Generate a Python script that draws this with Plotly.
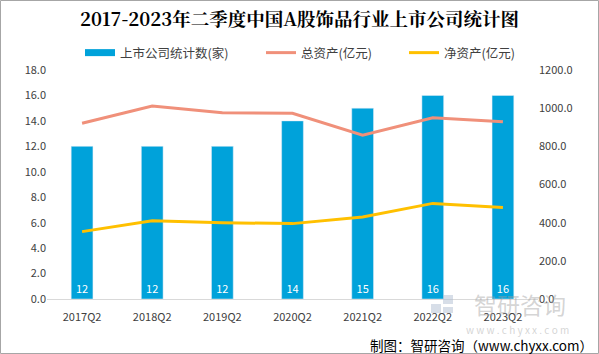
import plotly.graph_objects as go

categories = ["2017Q2", "2018Q2", "2019Q2", "2020Q2", "2021Q2", "2022Q2", "2023Q2"]
company_count = [12, 12, 12, 14, 15, 16, 16]
total_assets = [921, 1011, 976, 973, 858, 950, 929]
net_assets = [353, 410, 400, 395, 430, 501, 480]

W, H = 599, 354
ml, mr, mt, mb = 47, 61, 70, 55
pw, ph = W - ml - mr, H - mt - mb

BLUE, SALMON, GOLD = "#00A2DA", "#F0907A", "#FFC000"

fig = go.Figure()
fig.add_trace(go.Bar(
    x=categories, y=company_count, name="上市公司统计数(家)", showlegend=False,
    marker_color=BLUE, width=0.31,
    text=[str(v) for v in company_count], textposition="inside",
    insidetextanchor="start", textfont=dict(color="white", size=11),
))
# legend proxy for the bar (wide rectangle symbol)
fig.add_trace(go.Scatter(
    x=[None], y=[None], name="上市公司统计数(家)", mode="lines",
    line=dict(color=BLUE, width=7), legend="legend",
))
fig.add_trace(go.Scatter(
    x=categories, y=total_assets, name="总资产(亿元)", yaxis="y2",
    mode="lines", line=dict(color=SALMON, width=3), legend="legend2",
))
fig.add_trace(go.Scatter(
    x=categories, y=net_assets, name="净资产(亿元)", yaxis="y2",
    mode="lines", line=dict(color=GOLD, width=3), legend="legend3",
))

font_family = "Microsoft YaHei, Noto Sans CJK SC, sans-serif"
leg_common = dict(orientation="h", yanchor="middle", y=1 + 17 / ph, xanchor="left",
                  font=dict(size=12.5, color="#404040"), itemwidth=30,
                  bgcolor="rgba(0,0,0,0)", borderwidth=0)


def px_x(px):
    return (px - ml) / pw


def px_y(py):
    return (299 - py) / ph


fig.update_layout(
    width=W, height=H,
    margin=dict(l=ml, r=mr, t=mt, b=mb),
    paper_bgcolor="white", plot_bgcolor="white",
    font=dict(family=font_family, size=11, color="#404040"),
    title=dict(text="<b>2017-2023年二季度中国A股饰品行业上市公司统计图</b>",
               x=0.5, xanchor="center", y=1 - 20 / H, yanchor="middle",
               font=dict(family="Noto Serif CJK SC, Noto Sans CJK SC, serif", size=18.5, color="black")),
    legend=dict(x=px_x(80), **leg_common),
    legend2=dict(x=px_x(261), **leg_common),
    legend3=dict(x=px_x(404), **leg_common),
    showlegend=True,
    xaxis=dict(type="category", showgrid=False, showline=True, linecolor="#D9D9D9",
               ticks="outside", ticklen=8, tickcolor="rgba(0,0,0,0)",
               tickfont=dict(size=11, color="#404040")),
    yaxis=dict(range=[0, 18], dtick=2, tickformat=".1f", showgrid=False, zeroline=False,
               showline=False, ticks="", tickfont=dict(size=11, color="#404040")),
    yaxis2=dict(range=[0, 1200], dtick=200, tickformat=".1f", overlaying="y", side="right",
                showgrid=False, zeroline=False, showline=False, ticks="",
                tickfont=dict(size=11, color="#404040")),
    bargap=0.69,
)

# outer border
fig.add_shape(type="rect", xref="paper", yref="paper",
              x0=-ml / pw + 0.5 / pw, x1=1 + (mr - 0.5) / pw,
              y0=-(mb - 0.5) / ph, y1=1 + (mt - 0.5) / ph,
              line=dict(color="#A6A6A6", width=1), fillcolor="rgba(0,0,0,0)", layer="below")

# watermark logo (shapes)
logo_col = "rgba(175,190,210,0.5)"
fig.add_shape(type="rect", xref="paper", yref="paper", x0=px_x(431), x1=px_x(441),
              y0=px_y(313), y1=px_y(304), line_width=0, fillcolor=logo_col, layer="above")
fig.add_shape(type="rect", xref="paper", yref="paper", x0=px_x(443), x1=px_x(453),
              y0=px_y(304), y1=px_y(295), line_width=0, fillcolor=logo_col, layer="above")
fig.add_shape(type="rect", xref="paper", yref="paper", x0=px_x(443), x1=px_x(453),
              y0=px_y(313), y1=px_y(307), line_width=0, fillcolor=logo_col, layer="above")
# watermark text
fig.add_annotation(xref="paper", yref="paper", x=px_x(520), y=px_y(304),
                   text="智研咨询", showarrow=False, xanchor="center", yanchor="middle",
                   font=dict(size=23, color="rgba(160,160,160,0.45)"), borderpad=0)
fig.add_annotation(xref="paper", yref="paper", x=px_x(517), y=px_y(329),
                   text="w w w . c h y x x . c o m", showarrow=False, xanchor="center", yanchor="middle",
                   font=dict(size=10, color="rgba(170,170,170,0.5)"), borderpad=0)
# source
fig.add_annotation(xref="paper", yref="paper", x=px_x(595), y=px_y(345),
                   text="制图：智研咨询（www.chyxx.com）", showarrow=False, xanchor="right", yanchor="middle",
                   font=dict(size=13.5, color="black"))

fig.write_html("out.html")
